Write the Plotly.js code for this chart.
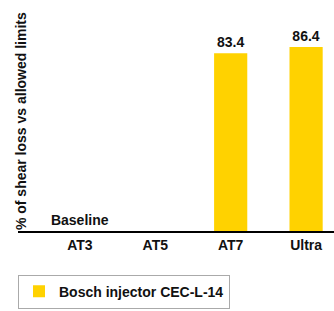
<!DOCTYPE html>
<html>
<head>
<meta charset="utf-8">
<script src="https://cdn.plot.ly/plotly-3.0.1.min.js"></script>
<style>html,body{margin:0;padding:0;background:#fff;}#chart{width:334px;height:311px;}</style>
</head>
<body>
<div id="chart"></div>
<script>
const categories = ['AT3', 'AT5', 'AT7', 'Ultra'];
const values = [0, null, 83.4, 86.4];
const barLabels = ['Baseline', '', '83.4', '86.4'];
const seriesName = 'Bosch injector CEC-L-14';
const yTitle = '% of shear loss vs allowed limits';

const FONT = 'Liberation Sans, Arial, sans-serif';
const trace = {
  type: 'bar',
  x: categories,
  y: values,
  name: seriesName,
  text: barLabels,
  textposition: 'outside',
  constraintext: 'none',
  cliponaxis: false,
  textfont: {family: FONT, size: 14, color: '#111', weight: 'bold'},
  marker: {color: '#FFD200'},
  width: 0.44,
  showlegend: true,
  hoverinfo: 'none'
};

const layout = {
  width: 334, height: 311,
  margin: {l: 18, r: 0, t: 18, b: 80},
  paper_bgcolor: '#fff', plot_bgcolor: '#fff',
  font: {family: FONT, color: '#111'},
  xaxis: {
    type: 'category',
    range: [-0.82, 3.37],
    showline: true, linecolor: '#000', linewidth: 2,
    ticks: '', showgrid: false, zeroline: false,
    tickfont: {family: FONT, size: 14, color: '#111', weight: 'bold'},
    fixedrange: true
  },
  yaxis: {
    range: [0, 100],
    visible: false,
    fixedrange: true
  },
  showlegend: true,
  legend: {
    orientation: 'h',
    x: 0, xanchor: 'left',
    y: -0.205, yanchor: 'top',
    bordercolor: '#aaa', borderwidth: 1,
    font: {family: FONT, size: 14, color: '#111', weight: 'bold'}
  },
  annotations: [{
    text: yTitle,
    textangle: -90,
    xref: 'paper', yref: 'paper',
    x: 0, y: 0.516,
    xanchor: 'center', yanchor: 'middle',
    xshift: 3,
    showarrow: false,
    font: {family: FONT, size: 14, color: '#111', weight: 'bold'}
  }]
};

Plotly.newPlot('chart', [trace], layout, {displayModeBar: false, staticPlot: true});
</script>
</body>
</html>
